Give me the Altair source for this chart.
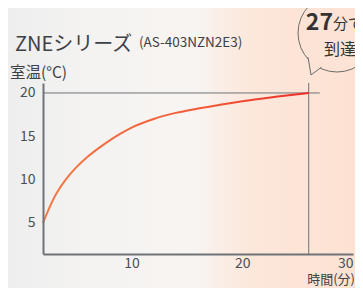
import altair as alt
import pandas as pd

# ---- data ----
time_min = [2, 3, 4, 5, 6, 7, 8, 9, 10, 12, 14, 16, 18, 20, 23, 26]
temp_c = [5.0, 7.9, 9.9, 11.4, 12.6, 13.6, 14.5, 15.3, 16.0, 17.0, 17.7, 18.2, 18.65, 19.05, 19.55, 20.0]
x_ticks = [10, 20, 30]
y_ticks = [5, 10, 15, 20]
target_temp = 20
reach_time = 26.0
ref_line_end = 27.0

FONT = "Noto Sans CJK JP"
W, H = 310, 171
x_scale = alt.Scale(domain=[2, 30], nice=False, zero=False)
y_scale = alt.Scale(domain=[1.4, 21.15], nice=False, zero=False)

x_axis = alt.Axis(
    values=x_ticks, title=None, ticks=False, grid=False, labelPadding=2,
    domainColor="#6e7378", domainWidth=2, labelFontSize=14, labelFlush=True,
    labelColor="#4a4f55", labelFont=FONT, zindex=1)
y_axis = alt.Axis(
    values=y_ticks, title=None, ticks=False, grid=False, labelPadding=8,
    domainColor="#6e7378", domainWidth=2, labelFontSize=14, labelFlush=False,
    labelColor="#4a4f55", labelFont=FONT, zindex=1)

curve_df = pd.DataFrame({"time": time_min, "temp": temp_c})
one = pd.DataFrame({"a": [0]})

bg = alt.Chart(one).mark_rect(
    fill=alt.LinearGradient(
        gradient="linear", x1=0, x2=1, y1=0, y2=0,
        stops=[
            alt.GradientStop(color="#eeeeee", offset=0),
            alt.GradientStop(color="#f4f3f2", offset=0.22),
            alt.GradientStop(color="#f8f4f1", offset=0.54),
            alt.GradientStop(color="#fce7db", offset=0.7),
            alt.GradientStop(color="#fde2d2", offset=1),
        ],
    )
).encode(x=alt.value(-35), x2=alt.value(312), y=alt.value(-75), y2=alt.value(205))

hrule = alt.Chart(one).mark_rule(color="#6e7378", strokeWidth=1).encode(
    x=alt.datum(2, scale=x_scale, axis=x_axis), x2=alt.datum(ref_line_end),
    y=alt.datum(target_temp, scale=y_scale, axis=y_axis),
)
vrule = alt.Chart(one).mark_rule(color="#6e7378", strokeWidth=1).encode(
    x=alt.datum(reach_time, scale=x_scale, axis=x_axis),
    y=alt.datum(21.15, scale=y_scale, axis=y_axis), y2=alt.datum(1.4),
)

line = alt.Chart(curve_df).mark_line(
    interpolate="monotone", strokeWidth=2,
    stroke=alt.LinearGradient(
        gradient="linear", x1=0, x2=1, y1=0, y2=0,
        stops=[
            alt.GradientStop(color="#f47a48", offset=0),
            alt.GradientStop(color="#f25a38", offset=0.6),
            alt.GradientStop(color="#ee2a26", offset=1),
        ],
    ),
).encode(
    x=alt.X("time:Q", scale=x_scale, axis=x_axis),
    y=alt.Y("temp:Q", scale=y_scale, axis=y_axis),
)

def txt(s, x, y, size, align="left", weight="normal", color="#3c4147", baseline="alphabetic"):
    return alt.Chart(one).mark_text(
        text=s, align=align, baseline=baseline, font=FONT, fontSize=size,
        fontWeight=weight, color=color,
    ).encode(x=alt.value(x), y=alt.value(y))

title_big = txt("到達が30分以内", -28, -72, 32, baseline="bottom", color="#333333")
series = txt("ZNEシリーズ", -28, -32, 20)
model = txt("(AS-403NZN2E3)", 96, -36, 13.5)
ytitle = txt("室温(°C)", -33, -5, 15.5)
xtitle = txt("時間(分)", 312, 201, 13, align="right")

bubble = alt.Chart(one).mark_point(
    shape="circle", size=6084, fill="#fce3d5", fillOpacity=1,
    stroke="#6b6b6b", strokeWidth=1, opacity=1,
).encode(x=alt.value(294), y=alt.value(-50))
tail = alt.Chart(one).mark_point(
    shape="M-0.3,-1.8L0,0L1.2,-0.9", size=400, fill="#fce3d5", fillOpacity=1,
    stroke="#6b6b6b", strokeWidth=1, opacity=1,
).encode(x=alt.value(268), y=alt.value(-8))
bubble_in = alt.Chart(one).mark_point(
    shape="circle", size=5700, fill="#fce3d5", fillOpacity=1, strokeWidth=0, opacity=1,
).encode(x=alt.value(294), y=alt.value(-50))

b27 = txt("27", 290, -53, 23, align="right", weight="bold", color="#333333")
bmin = txt("分で", 290, -54, 15, color="#333333")
breach = txt("到達", 297, -28, 16, align="center", color="#333333")

chart = alt.layer(
    bg, hrule, vrule, line, title_big, series, model, ytitle, xtitle,
    bubble, tail, bubble_in, b27, bmin, breach,
).properties(
    width=W, height=H,
    autosize=alt.AutoSizeParams(type="none"),
    padding={"left": 35, "top": 75, "right": 2, "bottom": 34},
    background="#ffffff",
).configure_view(stroke=None)

chart.save("out.html", embed_options={"renderer": "svg", "actions": False})
